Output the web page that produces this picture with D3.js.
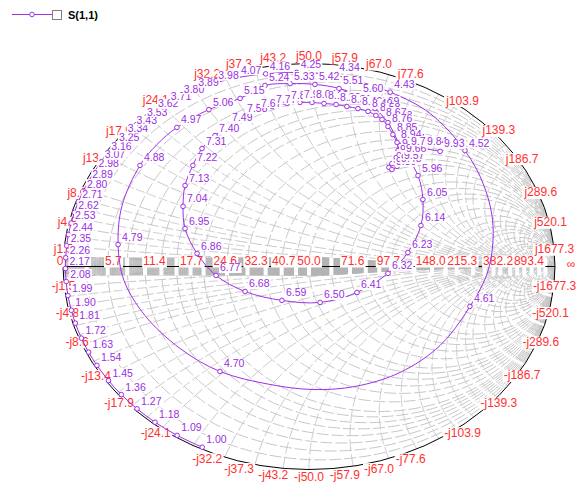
<!DOCTYPE html>
<html><head><meta charset="utf-8">
<script src="https://cdn.jsdelivr.net/npm/d3@7"></script>
<style>body{margin:0;background:#fff}svg{display:block}text{font-family:"Liberation Sans",Arial,sans-serif}</style>
</head><body>
<svg id="chart" width="577" height="482"></svg>
<script>
// ---- data: S(1,1) reflection coefficient (real / imag), label = frequency (GHz), "" = unlabeled trace point
const freqLabels = ["1.00","1.09","1.18","1.27","1.36","1.45","1.54","1.63","1.72","1.81","1.90","1.99","2.08","2.17","2.26","2.35","2.44","2.53","2.62","2.71","2.80","2.89","2.98","3.07","3.16","3.25","3.34","3.43","3.53","3.62","3.71","3.80","3.89","3.98","4.07","4.16","4.25","4.34","4.43","","4.52","","","","4.61","","","","","","4.70","","","","4.79","","4.88","","4.97","5.06","5.15","5.24","5.33","5.42","5.51","5.60","5.69","5.78","5.87","5.96","6.05","6.14","6.23","6.32","6.41","6.50","6.59","6.68","6.77","6.86","6.95","7.04","7.13","7.22","7.31","7.40","7.49","7.58","7.67","7.77","7.86","7.95","8.04","8.13","8.22","8.31","8.40","8.49","8.58","8.67","8.76","8.85","8.94","9.03","9.12","9.21","9.30","9.39","9.48","9.57","9.66","9.75","9.84","9.93"];
const s11Re = [-0.434,-0.536,-0.626,-0.699,-0.763,-0.815,-0.862,-0.896,-0.925,-0.950,-0.966,-0.980,-0.987,-0.990,-0.989,-0.985,-0.978,-0.967,-0.954,-0.938,-0.919,-0.897,-0.872,-0.847,-0.820,-0.789,-0.753,-0.717,-0.675,-0.630,-0.578,-0.525,-0.466,-0.385,-0.293,-0.176,-0.050,0.107,0.330,0.492,0.634,0.711,0.748,0.728,0.654,0.533,0.370,0.187,0.016,-0.159,-0.362,-0.524,-0.667,-0.752,-0.776,-0.760,-0.687,-0.618,-0.537,-0.407,-0.280,-0.179,-0.077,0.024,0.122,0.203,0.268,0.321,0.370,0.443,0.463,0.455,0.402,0.321,0.195,0.045,-0.110,-0.260,-0.378,-0.455,-0.504,-0.512,-0.504,-0.472,-0.435,-0.382,-0.329,-0.268,-0.211,-0.150,-0.089,-0.037,0.012,0.061,0.110,0.154,0.199,0.240,0.272,0.297,0.321,0.341,0.358,0.362,0.354,0.337,0.325,0.337,0.358,0.370,0.378,0.398,0.463,0.533];
const s11Im = [-0.890,-0.832,-0.767,-0.701,-0.631,-0.562,-0.487,-0.422,-0.353,-0.279,-0.216,-0.143,-0.074,-0.010,0.043,0.102,0.157,0.214,0.266,0.317,0.369,0.418,0.468,0.513,0.555,0.599,0.643,0.683,0.724,0.764,0.801,0.836,0.868,0.903,0.930,0.949,0.956,0.941,0.859,0.754,0.571,0.399,0.202,-0.020,-0.197,-0.389,-0.522,-0.591,-0.606,-0.581,-0.517,-0.404,-0.241,-0.069,0.108,0.300,0.498,0.601,0.685,0.773,0.828,0.892,0.901,0.897,0.877,0.838,0.778,0.709,0.596,0.448,0.330,0.202,0.069,-0.034,-0.128,-0.177,-0.167,-0.123,-0.044,0.064,0.187,0.296,0.399,0.498,0.581,0.645,0.695,0.739,0.768,0.788,0.803,0.808,0.808,0.803,0.798,0.788,0.778,0.764,0.744,0.724,0.690,0.650,0.611,0.571,0.537,0.507,0.488,0.478,0.493,0.512,0.542,0.581,0.581,0.567];
// ---- axis tick labels (ohms, Z0 = 50)
const Z0 = 50;
const resistanceTicks = [5.7,11.4,17.7,24.6,32.3,40.7,50.0,71.6,97.7,148.0,215.3,382.2,893.4];
const reactanceTicks = [1.5,4.8,8.6,13.4,17.9,24.1,32.2,37.3,43.2,50.0,57.9,67.0,77.6,103.9,139.3,186.7,289.6,520.1,1677.3];
// ---- grid values (normalized): main lines, fine lines near left rim, dense lines near right rim, band near real axis
const gridR = [0.05,0.1,0.15,0.2,0.25,0.3,0.35,0.4,0.5,0.6,0.7,0.8,0.9,1,1.2,1.4,1.6,1.8,2,2.5,3,3.5,4,5,6,7,8,10,12,15,20,30,50];
const gridX = [0.05,0.1,0.15,0.2,0.3,0.4,0.5,0.6,0.7,0.8,0.9,1,1.2,1.4,1.6,1.8,2,2.5,3,4,5,6,8,10,15,20,30,50];
const fineX = [0.025,0.075,0.125,0.175,0.25,0.35,0.45];
const denseR = [4.5,9,25,40,70,100];
const denseX = [2.25,2.75,3.5,4.5,7,9,12,25,40,70,100];
const bandX = d3.range(1,34).map(i=>i*0.003);

const traceColor = "#a02ee6", labelRed = "#ff3030", gridColor = "#c6c6c6";
const svg = d3.select("#chart");
const sx = d3.scaleLinear().domain([-1,1]).range([63,555]);
const sy = d3.scaleLinear().domain([-1,1]).range([469.5,63.5]);
const gam = (a,b) => { const d=(a+1)*(a+1)+b*b; return [(a*a-1+b*b)/d, 2*b/d]; };
const line = d3.line().x(p=>sx(p[0])).y(p=>sy(p[1]));

svg.append("clipPath").attr("id","uc").append("ellipse")
  .attr("cx",sx(0)).attr("cy",sy(0)).attr("rx",sx(1)-sx(0)).attr("ry",sy(-1)-sy(0));
svg.append("clipPath").attr("id","band").append("rect")
  .attr("x",sx(-1)).attr("y",sy(0)-9).attr("width",sx(1)-sx(-1)).attr("height",18);

const N=260;
const rPath = (r,xm)=> line(d3.range(N+1).map(i=>{const t=-Math.atan(xm)+2*Math.atan(xm)*i/N; return gam(r,Math.tan(t));}));
const xPath = (x,rm)=> line(d3.range(N+1).map(i=>{const t=Math.atan(rm)*i/N; return gam(Math.tan(t),x);}));

const grid = svg.append("g").attr("clip-path","url(#uc)").attr("fill","none").attr("stroke",gridColor).attr("stroke-width",1);
gridR.forEach(r=> grid.append("path").attr("d",rPath(r,400)).attr("stroke-dasharray","12,3"));
gridX.forEach(x=>[x,-x].forEach(xx=> grid.append("path").attr("d",xPath(xx,400)).attr("stroke-dasharray","12,3")));
fineX.forEach(x=>[x,-x].forEach(xx=> grid.append("path").attr("d",xPath(xx,0.6)).attr("stroke-dasharray","9,3")));
denseR.forEach(r=> grid.append("path").attr("d",rPath(r,4000)).attr("stroke-dasharray","6,2"));
denseX.forEach(x=>[x,-x].forEach(xx=> grid.append("path").attr("d",xPath(xx,4000)).attr("stroke-dasharray","6,2")));

const band = svg.append("g").attr("clip-path","url(#band)").append("g").attr("clip-path","url(#uc)");
bandX.forEach(x=>[x,-x].forEach(xx=> band.append("path").attr("d",xPath(xx,400)).attr("fill","none").attr("stroke","#b4b4b4")));
gridR.forEach(r=> band.append("rect").attr("x",sx((r-1)/(r+1))-2).attr("y",sy(0)-10).attr("width",4).attr("height",20).attr("fill","#fff"));

svg.append("ellipse").attr("cx",sx(0)).attr("cy",sy(0)).attr("rx",sx(1)-sx(0)).attr("ry",sy(-1)-sy(0))
  .attr("fill","none").attr("stroke","#000").attr("stroke-width",1);
svg.append("line").attr("x1",sx(-1)).attr("x2",sx(1)).attr("y1",sy(0)).attr("y2",sy(0)).attr("stroke","#000");

function boxedText(g, x, y, txt, color, size, anchor){
  const gg=g.append("g");
  const rect=gg.append("rect").attr("fill","#fff");
  const t=gg.append("text").attr("x",x).attr("y",y).attr("fill",color).attr("font-size",size).attr("text-anchor",anchor).text(txt);
  const bb=t.node().getBBox();
  rect.attr("x",bb.x-1).attr("y",bb.y+1.5).attr("width",bb.width+2).attr("height",bb.height-2);
}
const red = svg.append("g");
resistanceTicks.forEach(R=>{
  const r=R/Z0; boxedText(red, sx((r-1)/(r+1)), sy(0)-1.5, R.toFixed(1), labelRed, 12, "middle");
});
boxedText(red, sx(-1)-3, sy(0)-1.5, "0", labelRed, 12, "middle");
boxedText(red, sx(1)+16, sy(0)+1, "\u221e", labelRed, 12, "middle");
reactanceTicks.forEach(X=>{
  const phi=Math.PI-2*Math.atan(X/Z0);
  const px=sx(Math.cos(phi)), pyT=sy(Math.sin(phi)), pyB=sy(-Math.sin(phi));
  boxedText(red, px, pyT-1-3*Math.sin(phi), "j"+X.toFixed(1), labelRed, 12, "middle");
  boxedText(red, px, Math.min(pyB+11.5, 480.5), "-j"+X.toFixed(1), labelRed, 12, "middle");
});

const pts = s11Re.map((re,i)=>({re, im:s11Im[i], lab:freqLabels[i]}));
svg.append("path").attr("d", d3.line().x(d=>sx(d.re)).y(d=>sy(d.im)).curve(d3.curveCatmullRom.alpha(0.5))(pts))
  .attr("fill","none").attr("stroke",traceColor).attr("stroke-width",1);
const mk = pts.filter(d=>d.lab!=="");
svg.append("g").selectAll("circle").data(mk).join("circle")
  .attr("cx",d=>sx(d.re)).attr("cy",d=>sy(d.im)).attr("r",2.3)
  .attr("fill","#fff").attr("stroke",traceColor).attr("stroke-width",1);
const pl = svg.append("g");
mk.forEach(d=>boxedText(pl, sx(d.re)+4, sy(d.im)-4, d.lab, "#9a2ee0", 10.5, "start"));

const lg = svg.append("g");
lg.append("line").attr("x1",12).attr("x2",52).attr("y1",14.5).attr("y2",14.5).attr("stroke",traceColor);
lg.append("circle").attr("cx",32).attr("cy",14.5).attr("r",2.3).attr("fill","#fff").attr("stroke",traceColor);
lg.append("rect").attr("x",52.5).attr("y",10.5).attr("width",9).attr("height",9).attr("fill","#fff").attr("stroke","#808080");
lg.append("text").attr("x",68).attr("y",19).attr("font-size",11).attr("font-weight","bold").attr("fill","#000").text("S(1,1)");
</script>
</body></html>
